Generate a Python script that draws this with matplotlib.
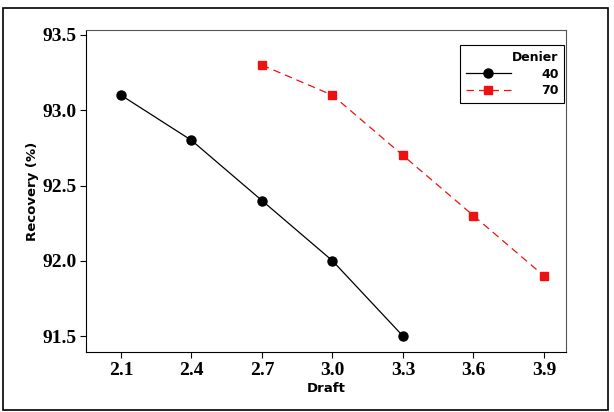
import matplotlib.pyplot as plt
from matplotlib.patches import Rectangle

draft_40 = [2.1, 2.4, 2.7, 3.0, 3.3]
recovery_40 = [93.1, 92.8, 92.4, 92.0, 91.5]
draft_70 = [2.7, 3.0, 3.3, 3.6, 3.9]
recovery_70 = [93.3, 93.1, 92.7, 92.3, 91.9]
x_ticks = [2.1, 2.4, 2.7, 3.0, 3.3, 3.6, 3.9]
y_ticks = [91.5, 92.0, 92.5, 93.0, 93.5]

fig = plt.figure(figsize=(6.14, 4.12), dpi=100)
ax = fig.add_axes([86 / 614, 1 - 352 / 412, 480 / 614, 322 / 412])

# outer frame around the whole graph
fig.patches.append(Rectangle((3 / 614, 1 - 410 / 412), 605 / 614, 402 / 412,
                             transform=fig.transFigure, fill=False,
                             edgecolor="black", linewidth=1.2))

ax.plot(draft_40, recovery_40, color="black", linewidth=0.9, marker="o",
        markersize=6.5, label="40")
ax.plot(draft_70, recovery_70, color="#ee1111", linewidth=0.9, marker="s",
        markersize=5.5, dashes=(6, 4), label="70")

ax.set_xlim(1.951, 3.994)
ax.set_ylim(91.394, 93.533)
ax.set_xticks(x_ticks)
ax.set_xticklabels([f"{v:.1f}" for v in x_ticks])
ax.set_yticks(y_ticks)
ax.set_yticklabels([f"{v:.1f}" for v in y_ticks])

for lab in ax.get_xticklabels() + ax.get_yticklabels():
    lab.set_fontfamily("Liberation Serif")
    lab.set_fontweight("bold")
    lab.set_fontsize(14)
ax.tick_params(direction="out", length=4, width=0.8, pad=3)

ax.set_xlabel("Draft", fontsize=9.5, fontweight="bold", labelpad=2)
ax.set_ylabel("Recovery (%)", fontsize=9.5, fontweight="bold", labelpad=2)

for side in ["top", "right"]:
    ax.spines[side].set_color("#555555")

leg = ax.legend(title="Denier", loc="upper right", bbox_to_anchor=(0.996, 0.953),
                fancybox=False, edgecolor="black", framealpha=1,
                alignment="right", handlelength=3.6, handletextpad=2.4,
                fontsize=9, title_fontproperties={"weight": "bold", "size": 9},
                borderpad=0.45, labelspacing=0.3, borderaxespad=0)
leg.get_frame().set_linewidth(0.8)
for t in leg.get_texts():
    t.set_fontweight("bold")

fig.savefig("out.png", dpi=100)
